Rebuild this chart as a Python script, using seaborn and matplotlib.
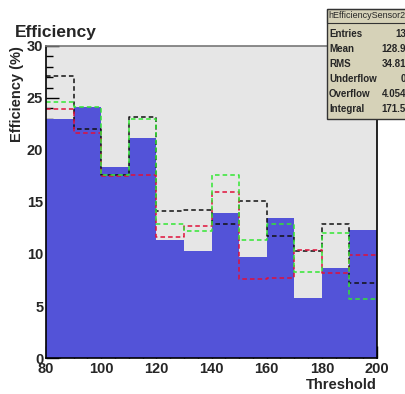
import numpy as np
import pandas as pd
import matplotlib
matplotlib.use('Agg')
import matplotlib.pyplot as plt
import seaborn as sns
from matplotlib.ticker import MultipleLocator

# bin edges and per-bin efficiency (%)
edges = [80, 90, 100, 110, 120, 130, 140, 150, 160, 170, 180, 190, 200]
blue_vals = [23.0, 24.1, 18.4, 21.2, 11.3, 10.3, 13.9, 9.7, 13.5, 5.8, 8.65, 12.35]
black_vals = [27.1, 22.0, 17.55, 23.2, 14.1, 14.25, 12.9, 15.05, 11.7, 10.25, 12.9, 7.25]
red_vals = [23.9, 21.6, 17.5, 17.55, 11.65, 12.65, 15.95, 7.6, 7.7, 10.4, 8.15, 9.9]
green_vals = [24.6, 24.1, 17.6, 22.95, 12.9, 12.25, 17.55, 11.3, 12.85, 8.3, 12.0, 5.7]

stat_names = ["Entries", "Mean", "RMS", "Underflow", "Overflow", "Integral"]
stat_values = ["13", "128.9", "34.81", "0", "4.054", "171.5"]

centers = [(a + b) / 2 for a, b in zip(edges[:-1], edges[1:])]
df = pd.DataFrame({"x": centers, "blue": blue_vals, "black": black_vals,
                   "red": red_vals, "green": green_vals})

sns.set_style("white")
plt.rcParams['font.family'] = ['Liberation Sans', 'DejaVu Sans']

fig = plt.figure(figsize=(4.06, 3.94), dpi=100)
ax = fig.add_axes([46 / 406, 1 - 358 / 394, (377 - 46) / 406, (358 - 46) / 394])
ax.set_facecolor('#e6e6e6')

sns.histplot(data=df, x="x", weights="blue", bins=edges, element="step",
             fill=True, color='#5353d8', alpha=1, linewidth=0, ax=ax)
for col, c in [("black", "#111111"), ("red", "#e0103a"), ("green", "#33e633")]:
    sns.histplot(data=df, x="x", weights=col, bins=edges, element="step",
                 fill=False, color=c, linewidth=1.1, linestyle=(0, (3, 2)), ax=ax)

ax.set_xlim(80, 200)
ax.set_ylim(0, 30)
ax.xaxis.set_major_locator(MultipleLocator(20))
ax.xaxis.set_minor_locator(MultipleLocator(5))
ax.yaxis.set_major_locator(MultipleLocator(5))
ax.yaxis.set_minor_locator(MultipleLocator(1))
ax.tick_params(which='major', direction='in', length=9, width=1, color='black',
               labelsize=10.5, pad=2)
ax.tick_params(which='minor', direction='in', length=5, width=1, color='black')
ax.tick_params(axis='x', which='both', bottom=True, top=False, pad=3)
ax.tick_params(axis='y', which='both', left=True, right=False)
for lab in ax.get_xticklabels() + ax.get_yticklabels():
    lab.set_fontweight('bold')
for side, sp in ax.spines.items():
    sp.set_visible(True)
    sp.set_color('black' if side != 'top' else '#777777')
    sp.set_linewidth(1.2)

ax.set_xlabel("")
ax.set_ylabel("")
fig.text(377 / 406, 1 - 385 / 394, "Threshold", ha='right', va='center',
         fontsize=10.5, fontweight='bold')
fig.text(17 / 406, 1 - 46 / 394, "Efficiency (%)", rotation=90, ha='center',
         va='top', fontsize=10.5, fontweight='bold')
fig.text(15 / 406, 1 - 32 / 394, "Efficiency", ha='left', va='center',
         fontsize=12.5, fontweight='bold')

# stats box (runs off the right edge)
box_l, box_t, box_b = 327 / 406, 1 - 9 / 394, 1 - 119 / 394
fig.patches.append(plt.Rectangle((box_l, box_b), 0.3, box_t - box_b,
                                 transform=fig.transFigure, facecolor='#d6d2b8',
                                 edgecolor='#333333', linewidth=1))
fig.patches.append(plt.Rectangle((box_l, 1 - 23 / 394), 0.3, 14 / 394,
                                 transform=fig.transFigure, facecolor='none',
                                 edgecolor='#333333', linewidth=0.8))
fig.text(box_l + 1 / 406, 1 - 16 / 394, "hEfficiencySensor2", fontsize=6.5,
         va='center', ha='left')
for i, (n, v) in enumerate(zip(stat_names, stat_values)):
    yy = 1 - (34 + i * 15) / 394
    fig.text(box_l + 2 / 406, yy, n, fontsize=7, va='center', ha='left',
             fontweight='semibold')
    fig.text(406 / 406, yy, v, fontsize=7, va='center', ha='right',
             fontweight='semibold')

fig.savefig("out.png", dpi=100, facecolor='white')
